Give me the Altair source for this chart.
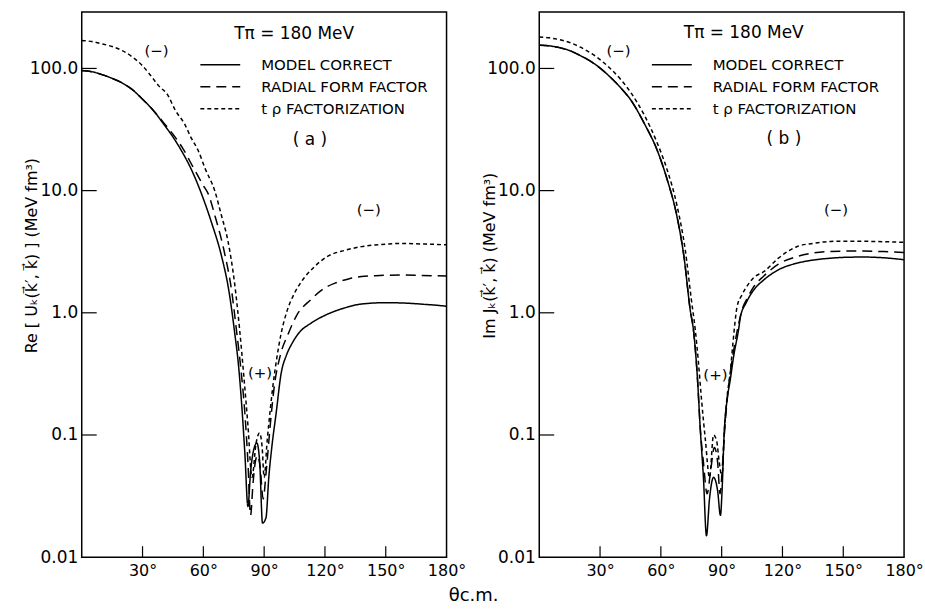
import altair as alt
import pandas as pd

# ---------------- data ----------------
series_names = ["MODEL CORRECT", "RADIAL FORM FACTOR", "t \u03c1  FACTORIZATION"]

# panel (a): Re U
re_model_ang = [0, 5, 10, 15, 20, 25, 30, 35, 41, 45, 49, 54, 59, 64, 69, 72.5, 75.4, 77.5, 79, 80.5, 82,
                83.3, 84.8, 86.4, 87.8, 89.2, 90.9, 92.3, 93.8, 95.9, 98.4, 101, 104, 107, 113, 121, 130,
                138, 150, 160, 170, 176, 180]
re_model_val = [96, 94, 89, 83, 76, 67, 56, 46, 34, 27.5, 21.5, 15, 9.5, 5.5, 2.9, 1.55, 0.7, 0.35, 0.17, 0.07,
                0.026, 0.05, 0.075, 0.086, 0.06, 0.019, 0.021, 0.045, 0.08, 0.15, 0.32, 0.45, 0.57, 0.68, 0.82,
                0.97, 1.1, 1.18, 1.21, 1.2, 1.17, 1.15, 1.13]

re_rad_ang = [0, 5, 10, 15, 20, 25, 30, 35, 41, 45, 50, 55, 60, 62.3, 66, 70.5, 74, 76.3, 78.5, 80.5, 82,
              83.3, 84.5, 85.5, 86.7, 88, 89.5, 91, 93, 95, 98, 102, 106, 113, 120, 125, 132, 138, 147,
              157, 168, 180]
re_rad_val = [96, 94, 89, 83, 76, 67, 56, 46, 35, 29, 22, 15.5, 11, 9.5, 6, 3.07, 1.5, 0.73, 0.35, 0.15, 0.06,
              0.022, 0.04, 0.058, 0.068, 0.055, 0.03, 0.05, 0.12, 0.25, 0.45, 0.68, 0.95, 1.28, 1.6, 1.75,
              1.9, 1.98, 2.02, 2.04, 2.02, 2.0]

re_tr_ang = [0, 5, 10, 15, 20, 25, 30, 33, 38, 42.6, 46, 50.8, 54, 57.4, 61, 65.6, 69, 72.1, 75.5, 77.9, 80,
             82, 84, 86, 87.7, 89, 90, 91.5, 93, 94.3, 96, 98.4, 101, 105, 108, 115, 121, 130, 138, 150,
             157, 170, 180]
re_tr_val = [169, 166, 159, 151, 140, 124, 105, 92, 72, 60, 46, 35, 27, 21.4, 15, 10, 6.2, 3.9, 1.7, 0.73,
             0.3, 0.12, 0.045, 0.085, 0.104, 0.08, 0.045, 0.09, 0.16, 0.25, 0.4, 0.68, 1.0, 1.45, 1.76, 2.4,
             2.88, 3.25, 3.48, 3.65, 3.7, 3.65, 3.6]

# panel (b): Im J
im_model_ang = [0, 5, 10, 15, 20, 28.3, 35, 40, 44.9, 52, 58, 63, 67.9, 71.5, 74.5, 76.1, 78, 79.5, 81,
                82.5, 84, 86, 88, 89.4, 90.2, 91.2, 92.6, 94.2, 96, 98.3, 99.3, 102, 106, 110.8, 118,
                127.3, 135, 143.8, 152, 160.2, 170, 180]
im_model_val = [155, 153, 148, 140, 128, 106, 85, 70, 56, 35, 21.8, 12.5, 6.2, 2.8, 1.05, 0.72, 0.3, 0.108,
                0.045, 0.015, 0.03, 0.045, 0.035, 0.022, 0.035, 0.1, 0.19, 0.28, 0.45, 0.72, 0.93, 1.2,
                1.55, 1.86, 2.25, 2.55, 2.7, 2.8, 2.85, 2.86, 2.82, 2.72]

im_rad_ang = [0, 5, 10, 15, 20, 28.3, 35, 40, 44.9, 52, 58, 63, 67.9, 71.5, 74.5, 76.1, 78, 79.5, 81,
              82.8, 84.5, 86.4, 88, 89.2, 90.5, 91.5, 92.8, 94.2, 96, 98.3, 100, 103, 106, 110.8, 118,
              127.3, 135, 143.8, 152, 160, 170, 180]
im_rad_val = [155, 153, 148, 140, 128, 106, 85, 70, 56, 35, 21.8, 12.5, 6.2, 2.8, 1.05, 0.72, 0.3, 0.11,
              0.06, 0.033, 0.05, 0.079, 0.06, 0.033, 0.06, 0.11, 0.2, 0.32, 0.5, 0.8, 1.05, 1.35, 1.65,
              2.0, 2.5, 2.89, 3.08, 3.18, 3.2, 3.2, 3.17, 3.12]

im_tr_ang = [0, 5, 10, 15, 20, 28.3, 35, 40, 45, 52, 58, 63, 68, 72, 75, 77, 78.5, 80, 82, 84, 86, 87.5,
             88.8, 90.2, 91.2, 92.6, 94.2, 95.5, 97.6, 100, 103, 106, 110.8, 118, 127.3, 135, 143.8, 152,
             160, 170, 180]
im_tr_val = [181, 178, 172, 163, 150, 124, 100, 82, 64, 41, 25, 15, 7.5, 3.3, 1.3, 0.72, 0.4, 0.2, 0.09,
             0.045, 0.1, 0.09, 0.06, 0.045, 0.1, 0.2, 0.32, 0.55, 1.12, 1.4, 1.7, 1.95, 2.17, 2.8, 3.49,
             3.7, 3.84, 3.86, 3.85, 3.82, 3.77]

# axes
y_tick_values = [0.01, 0.1, 1, 10, 100]
y_tick_labels = ["0.01", "0.1", "1.0", "10.0", "100.0"]
x_tick_values = [30, 60, 90, 120, 150, 180]
x_tick_labels = ["30\u00b0", "60\u00b0", "90\u00b0", "120\u00b0", "150\u00b0", "180\u00b0"]
inner_y_ticks = [0.1, 1, 10, 100]
inner_x_ticks = [30, 60, 90, 120, 150]

# annotations (text, angle, value, size)
re_notes_text = ["T\u03c0 = 180 MeV", "( a )", "(\u2212)", "(\u2212)", "(+)"]
re_notes_ang = [104.8, 112.6, 36.9, 141.6, 88.0]
re_notes_val = [190, 25.8, 140, 6.9, 0.32]
re_notes_size = [17, 17, 15, 15, 15]

im_notes_text = ["T\u03c0 = 180 MeV", "( b )", "(\u2212)", "(\u2212)", "(+)"]
im_notes_ang = [100.9, 120.7, 39.1, 146.4, 86.9]
im_notes_val = [196, 26.3, 140, 7.0, 0.31]
im_notes_size = [17, 17, 15, 15, 15]

FONT = "DejaVu Sans"
W, H = 366, 547


def lines_df(groups):
    rows = []
    for name, angs, vals in groups:
        for a, v in zip(angs, vals):
            rows.append({"angle": a, "value": v, "series": name})
    return pd.DataFrame(rows)


def expr_map(values, labels):
    e = "''"
    for v, l in reversed(list(zip(values, labels))):
        e = f"datum.value == {v} ? '{l}' : ({e})"
    return e


x_scale = alt.Scale(domain=[0, 180], nice=False, zero=False)
y_scale = alt.Scale(type="log", domain=[0.01, 290], nice=False)


def panel(df, notes, ytitle, legend_x):
    x_axis = alt.Axis(values=x_tick_values, labelExpr=expr_map(x_tick_values, x_tick_labels),
                      ticks=False, domain=False, grid=False, title="", labelFlush=False)
    y_axis = alt.Axis(values=y_tick_values, labelExpr=expr_map(y_tick_values, y_tick_labels),
                      ticks=False, domain=False, grid=False, title=ytitle, labelFlush=False,
                      titleX=-50, titleY=244, titleAngle=270, titleAlign="center", titleBaseline="middle")
    lines = alt.Chart(df).mark_line(color="black", strokeWidth=1.5, clip=True,
                                    interpolate="monotone").encode(
        x=alt.X("angle:Q", scale=x_scale, axis=x_axis),
        y=alt.Y("value:Q", scale=y_scale, axis=y_axis),
        strokeDash=alt.StrokeDash(
            "series:N",
            scale=alt.Scale(domain=series_names, range=[[1, 0], [10, 6], [4, 3]]),
            sort=series_names,
            legend=alt.Legend(orient="none", legendX=legend_x, legendY=42, title=None,
                              symbolType="stroke", symbolSize=1600, symbolStrokeWidth=1.5,
                              symbolStrokeColor="black", labelFont=FONT, labelFontSize=15,
                              labelColor="black", labelOffset=20, rowPadding=0, clipHeight=22,
                              labelLimit=400, direction="vertical"),
        ),
    )
    ytk = alt.Chart(pd.DataFrame({"value": inner_y_ticks})).mark_rule(color="black", strokeWidth=1.2).encode(
        y=alt.Y("value:Q", scale=y_scale), x=alt.value(0), x2=alt.value(15))
    xtk = alt.Chart(pd.DataFrame({"angle": inner_x_ticks})).mark_rule(color="black", strokeWidth=1.2).encode(
        x=alt.X("angle:Q", scale=x_scale), y=alt.value(H), y2=alt.value(H - 11))
    txt = alt.Chart(notes).mark_text(color="black", font=FONT, align="center", baseline="middle").encode(
        x=alt.X("angle:Q", scale=x_scale),
        y=alt.Y("value:Q", scale=y_scale),
        text="text:N",
        size=alt.Size("size:Q", scale=None, legend=None),
    )
    return alt.layer(lines, ytk, xtk, txt).properties(width=W, height=H)


re_df = lines_df([(series_names[0], re_model_ang, re_model_val),
                  (series_names[1], re_rad_ang, re_rad_val),
                  (series_names[2], re_tr_ang, re_tr_val)])
im_df = lines_df([(series_names[0], im_model_ang, im_model_val),
                  (series_names[1], im_rad_ang, im_rad_val),
                  (series_names[2], im_tr_ang, im_tr_val)])
re_notes = pd.DataFrame({"text": re_notes_text, "angle": re_notes_ang, "value": re_notes_val,
                         "size": re_notes_size})
im_notes = pd.DataFrame({"text": im_notes_text, "angle": im_notes_ang, "value": im_notes_val,
                         "size": im_notes_size})

left = panel(re_df, re_notes, "Re [ U\u2096(k\u20d7\u2032, k\u20d7) ]  (MeV  fm\u00b3)", 118)
right = panel(im_df, im_notes, "Im  J\u2096(k\u20d7\u2032, k\u20d7)  (MeV  fm\u00b3)", 112)

chart = alt.hconcat(left, right, spacing=13).resolve_scale(
    strokeDash="independent", x="independent", y="independent"
).resolve_legend(strokeDash="independent").properties(
    title=alt.TitleParams("\u03b8c.m.", orient="bottom", anchor="middle", font=FONT, fontSize=18,
                          fontWeight="normal", color="black", offset=8)
).configure(
    padding={"left": 23, "top": 10, "right": 0, "bottom": 0}
).configure_view(
    stroke="black", strokeWidth=1.5
).configure_axisX(
    labelFont=FONT, labelFontSize=16, labelColor="black", labelPadding=5
).configure_axisY(
    labelFont=FONT, labelFontSize=17, labelColor="black", labelPadding=4,
    titleFont=FONT, titleFontSize=16, titleFontWeight="normal", titleColor="black"
)

chart.save("out.html", embed_options={"renderer": "svg", "actions": False})
